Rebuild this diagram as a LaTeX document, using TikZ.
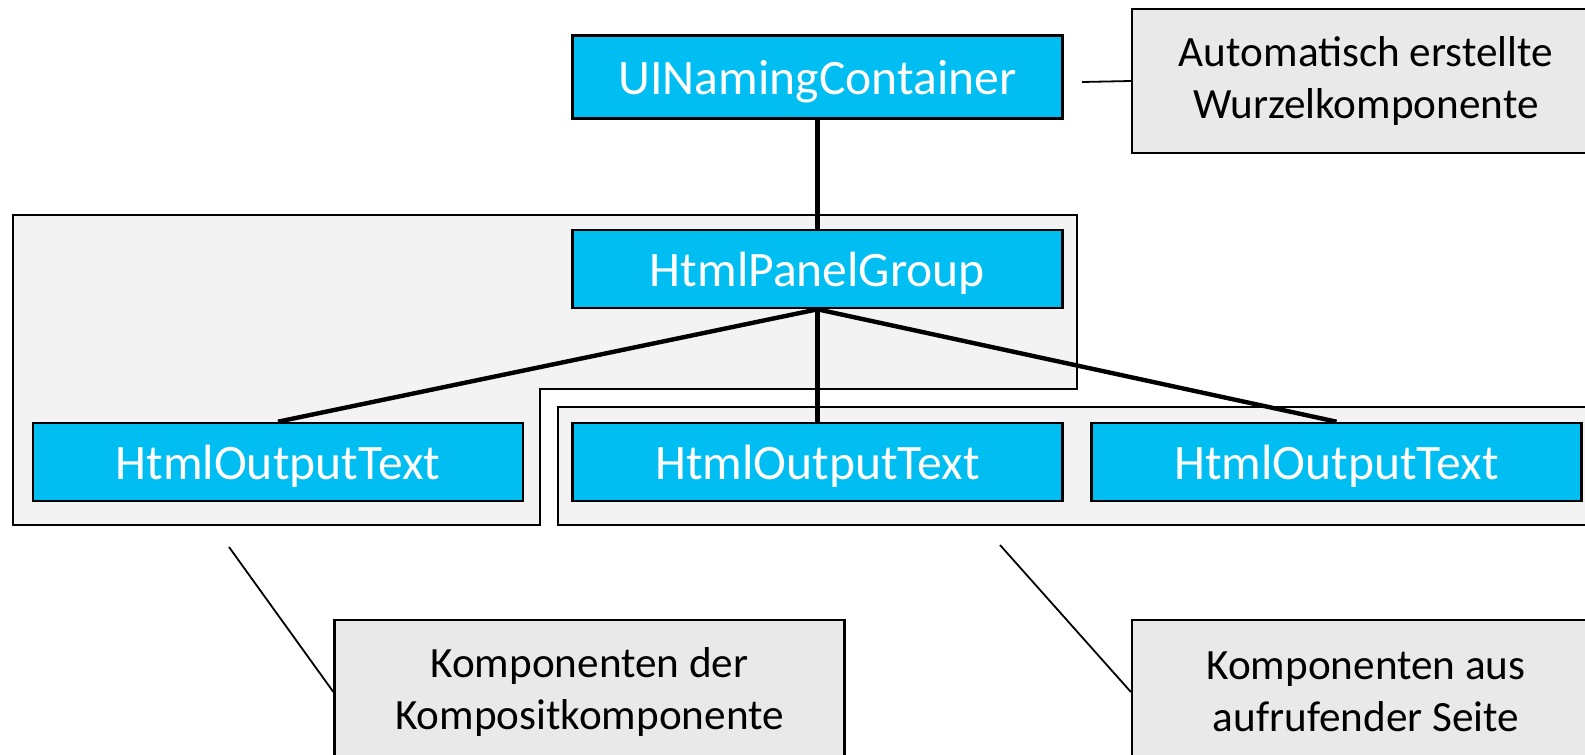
\documentclass[tikz,border=0pt]{standalone}
\usepackage{fontspec}
\setmainfont{Carlito}
\usepackage{tikz}

\definecolor{compblue}{RGB}{0,190,242}
\definecolor{groupgray}{RGB}{243,243,243}
\definecolor{notegray}{RGB}{233,233,233}

\begin{document}
\begin{tikzpicture}[x=0.5pt,y=-0.5pt,
  comp/.style={draw,line width=1.3pt,fill=compblue,text=white,
    minimum width=245pt,minimum height=39pt,inner sep=0pt,text depth=0pt,
    font=\fontsize{24.8}{29}\selectfont},
  note/.style={draw,line width=1.1pt,fill=notegray,align=center,
    minimum width=234pt,minimum height=72pt,inner sep=0pt,
    font=\fontsize{21.6}{25.8}\selectfont},
  group/.style={draw,line width=1.1pt,fill=groupgray},
  tree/.style={line width=2.2pt},
  pointer/.style={line width=0.9pt}]
\useasboundingbox (0,0) rectangle (1585,755);

% the two groups behind the components
\path[group] (13,215) -- (1077,215) -- (1077,389) -- (540,389)
  -- (540,525) -- (13,525) -- cycle;
\path[group] (558,407) rectangle (1605,525);

\node[comp,minimum height=41.5pt] (root) at (817.5,77){UINamingContainer};
\node[comp] (panel) at (817.5,269){HtmlPanelGroup};
\node[comp] (outA) at (278,462){HtmlOutputText};
\node[comp] (outB) at (817.5,462){HtmlOutputText};
\node[comp] (outC) at (1336.5,462){HtmlOutputText};

\node[note] (autoNote) at (1366,81){Automatisch erstellte\\Wurzelkomponente};
\node[note,minimum width=255pt] (compNote) at (589.5,692){Komponenten der\\Kompositkomponente};
\node[note] (pageNote) at (1366,692){Komponenten aus\\aufrufender Seite};

\coordinate (rootTip) at (1082,82);
\coordinate (compTip) at (229,547);
\coordinate (pageTip) at (1000,545);

\draw[tree] (root.south) -- (panel.north);
\foreach \to in {outA,outB,outC}
\draw[tree] (panel.south) -- (\to.north);

\draw[pointer] (rootTip) -- (autoNote.west);
\draw[pointer] (compTip) -- (compNote.west);
\draw[pointer] (pageTip) -- (pageNote.west);
\end{tikzpicture}
\end{document}
